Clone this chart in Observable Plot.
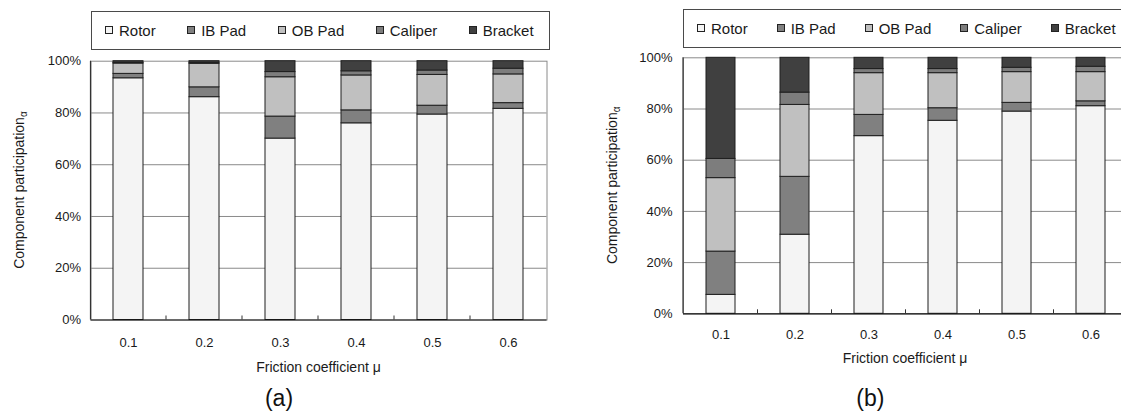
<!DOCTYPE html>
<html>
<head>
<meta charset="utf-8">
<script src="https://cdn.jsdelivr.net/npm/d3@7"></script>
<script src="https://cdn.jsdelivr.net/npm/@observablehq/plot@0.6"></script>
<style>
  html, body { margin: 0; padding: 0; background: #fff; overflow: hidden; }
  #chart { position: relative; width: 1121px; height: 413px; overflow: hidden;
           font-family: "Liberation Sans", Arial, sans-serif; color: #1a1a1a; }
  #chart svg { position: absolute; top: 0; }
  .legend { position: absolute; box-sizing: border-box; border: 1px solid #4a4a4a;
            display: flex; align-items: center; font-size: 15px; background: #fff; }
  .item { display: flex; align-items: center; white-space: nowrap; }
  .swatch { width: 8px; height: 8px; box-sizing: border-box; border: 1px solid #222; margin-right: 6px; }
</style>
</head>
<body>
<div id="chart"></div>
<script>
// Friction coefficient categories and brake components
const frictionCoefficients = ["0.1", "0.2", "0.3", "0.4", "0.5", "0.6"];
const components = ["Rotor", "IB Pad", "OB Pad", "Caliper", "Bracket"];
const componentFills = ["#f4f4f4", "#808080", "#c0c0c0", "#7d7d7d", "#404040"];
const yTicks = [0, 20, 40, 60, 80, 100];

// Panel (a): component participation (%) per friction coefficient
const rotorA   = [93.4, 86.1, 70.1, 76.0, 79.4, 81.6];
const ibPadA   = [1.7, 3.8, 8.5, 5.0, 3.4, 2.2];
const obPadA   = [4.0, 9.1, 15.2, 13.5, 11.9, 11.1];
const caliperA = [0.3, 0.4, 2.0, 1.6, 1.7, 2.2];
const bracketA = [0.6, 0.6, 4.2, 3.9, 3.6, 2.9];

// Panel (b): component participation (%) per friction coefficient
const rotorB   = [7.4, 30.9, 69.4, 75.4, 79.0, 81.1];
const ibPadB   = [16.9, 22.6, 8.3, 4.9, 3.4, 1.9];
const obPadB   = [28.7, 28.1, 16.3, 13.7, 12.0, 11.4];
const caliperB = [7.5, 4.8, 1.6, 1.6, 1.7, 2.1];
const bracketB = [39.5, 13.6, 4.4, 4.4, 3.9, 3.5];

const FONT = "'Liberation Sans', Arial, sans-serif";
const chart = document.getElementById("chart");

function drawPanel(series, cfg) {
  const rows = frictionCoefficients.flatMap((mu, i) =>
    components.map((component, j) => ({mu, component, value: series[j][i]})));

  const plot = Plot.plot({
    width: cfg.width,
    height: 413,
    marginLeft: cfg.marginLeft,
    marginRight: cfg.marginRight,
    marginTop: cfg.marginTop,
    marginBottom: cfg.marginBottom,
    style: {fontFamily: FONT, fontSize: "13px", color: "#1a1a1a", background: "transparent", overflow: "visible"},
    x: {domain: frictionCoefficients, paddingInner: 0.605, paddingOuter: 0.3025, label: null},
    y: {domain: [0, 100], label: null},
    color: {domain: components, range: componentFills},
    marks: [
      Plot.ruleY(yTicks.slice(1, -1), {stroke: "#8a8a8a", strokeWidth: 1}),
      Plot.frame({stroke: "#8a8a8a", strokeWidth: 1}),
      Plot.barY(rows, {x: "mu", y: "value", fill: "component", stroke: "#1f1f1f", strokeWidth: 1}),
      Plot.ruleY([0], {stroke: "#111", strokeWidth: 1.2}),
      Plot.axisY({ticks: yTicks, tickSize: 0, tickPadding: cfg.yPad, tickFormat: d => d + "%",
                  label: null, fontSize: 13}),
      Plot.axisX({tickSize: 0, tickPadding: cfg.xPad, label: null, fontSize: 13})
    ]
  });

  plot.style.left = cfg.left + "px";
  const svg = d3.select(plot);
  const xs = plot.scale("x");
  const ys = plot.scale("y");
  const y0 = ys.apply(0), y100 = ys.apply(100);
  const x0 = cfg.marginLeft;

  // darker left axis line
  svg.append("line")
    .attr("x1", x0).attr("x2", x0).attr("y1", y100).attr("y2", y0)
    .attr("stroke", "#333").attr("stroke-width", 1.2);

  // small inward ticks at the boundaries between categories
  const gap = (xs.step - xs.bandwidth) / 2;
  frictionCoefficients.slice(1).forEach(mu => {
    const bx = xs.apply(mu) - gap;
    svg.append("line")
      .attr("x1", bx).attr("x2", bx).attr("y1", y0).attr("y2", y0 - 4)
      .attr("stroke", "#333").attr("stroke-width", 1);
  });

  // y-axis title with subscript alpha
  const midY = (y0 + y100) / 2;
  const yt = svg.append("text")
    .attr("transform", `translate(${cfg.yTitleX},${midY}) rotate(-90)`)
    .attr("text-anchor", "middle")
    .attr("font-family", FONT).attr("font-size", 14).attr("fill", "#1a1a1a");
  yt.append("tspan").text("Component participation");
  yt.append("tspan").attr("font-size", 10).attr("dy", 3).text("α");

  // x-axis title
  const plotRight = cfg.marginLeft + xs.step * frictionCoefficients.length;
  svg.append("text")
    .attr("x", (x0 + plotRight) / 2).attr("y", cfg.xTitleY)
    .attr("text-anchor", "middle")
    .attr("font-family", FONT).attr("font-size", 14).attr("fill", "#1a1a1a")
    .text("Friction coefficient μ");

  // panel caption
  svg.append("text")
    .attr("x", cfg.captionX).attr("y", 406)
    .attr("text-anchor", "middle")
    .attr("font-family", FONT).attr("font-size", 23).attr("fill", "#111")
    .text(cfg.caption);

  chart.appendChild(plot);

  // legend box
  const legend = d3.select(chart).append("div").attr("class", "legend")
    .style("left", cfg.legend.left + "px").style("top", cfg.legend.top + "px")
    .style("width", cfg.legend.width + "px").style("height", cfg.legend.height + "px")
    .style("padding-left", cfg.legend.padLeft + "px")
    .style("gap", cfg.legend.gap + "px");
  components.forEach((c, i) => {
    const item = legend.append("div").attr("class", "item");
    item.append("div").attr("class", "swatch").style("background", componentFills[i]);
    item.append("span").text(c);
  });
}

drawPanel([rotorA, ibPadA, obPadA, caliperA, bracketA], {
  left: 0, width: 560,
  marginLeft: 90.5, marginRight: 13.5, marginTop: 60.7, marginBottom: 93.5,
  yPad: 10, xPad: 17.5, yTitleX: 24, xTitleY: 371.5,
  caption: "(a)", captionX: 279,
  legend: {left: 90.5, top: 11, width: 459, height: 38.5, padLeft: 13.5, gap: 31.5}
});

drawPanel([rotorB, ibPadB, obPadB, caliperB, bracketB], {
  left: 560, width: 580,
  marginLeft: 123, marginRight: 11, marginTop: 57.3, marginBottom: 99.7,
  yPad: 11, xPad: 15.5, yTitleX: 57, xTitleY: 362.5,
  caption: "(b)", captionX: 310.4,
  legend: {left: 682.7, top: 9, width: 460, height: 38.7, padLeft: 13.3, gap: 29}
});
</script>
</body>
</html>
